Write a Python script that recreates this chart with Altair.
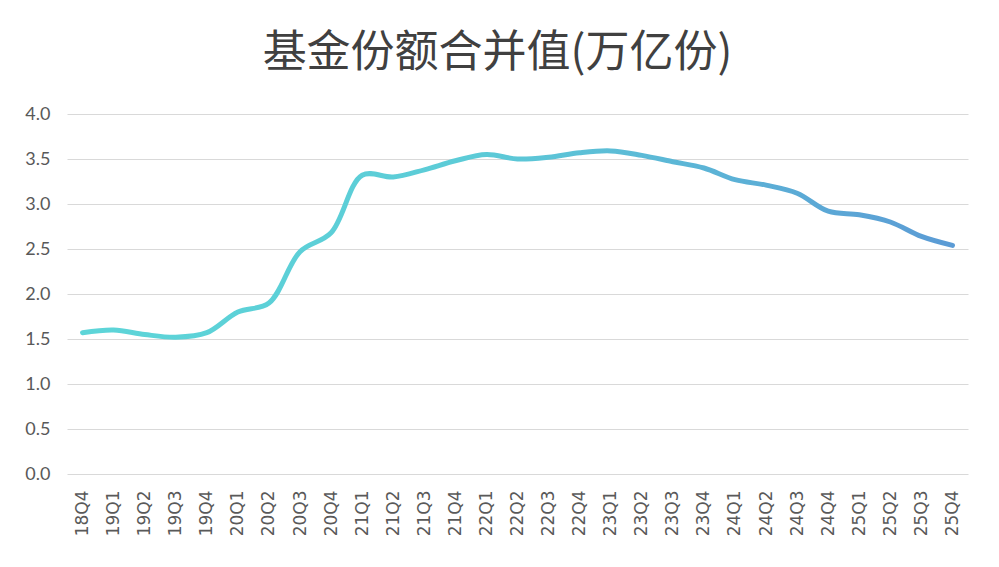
import altair as alt
import pandas as pd

quarters = ["18Q4", "19Q1", "19Q2", "19Q3", "19Q4",
            "20Q1", "20Q2", "20Q3", "20Q4",
            "21Q1", "21Q2", "21Q3", "21Q4",
            "22Q1", "22Q2", "22Q3", "22Q4",
            "23Q1", "23Q2", "23Q3", "23Q4",
            "24Q1", "24Q2", "24Q3", "24Q4",
            "25Q1", "25Q2", "25Q3", "25Q4"]
values = [1.57, 1.60, 1.55, 1.52, 1.57,
          1.80, 1.90, 2.47, 2.68,
          3.32, 3.30, 3.38, 3.48,
          3.55, 3.50, 3.52, 3.57,
          3.59, 3.54, 3.47, 3.40,
          3.27, 3.21, 3.12, 2.92,
          2.88, 2.80, 2.64, 2.54]

df = pd.DataFrame({"q": quarters, "v": values})

grad = alt.Gradient(
    gradient="linear",
    stops=[alt.GradientStop(color="#5dd5d8", offset=0),
           alt.GradientStop(color="#5ccbd7", offset=0.45),
           alt.GradientStop(color="#5b9bd5", offset=1)],
    x1=0, x2=1, y1=0, y2=0,
)

chart = alt.Chart(df).mark_line(
    stroke=grad, strokeWidth=5, strokeCap="round", interpolate="catmull-rom"
).encode(
    x=alt.X("q:N", sort=quarters, title=None,
            scale=alt.Scale(type="point", padding=0.5),
            axis=alt.Axis(labelAngle=270, labelFont="DejaVu Sans", labelFontSize=17,
                          labelColor="#595959", labelPadding=16, ticks=False,
                          domain=False, grid=False, labelOverlap=False)),
    y=alt.Y("v:Q", title=None,
            scale=alt.Scale(domain=[0, 4]),
            axis=alt.Axis(values=[0, 0.5, 1, 1.5, 2, 2.5, 3, 3.5, 4], format=".1f",
                          labelFont="Lato", labelFontSize=18, labelColor="#595959",
                          labelPadding=17, ticks=False, domain=False,
                          gridColor="#d9d9d9", gridWidth=1)),
).properties(
    width=901, height=360,
    autosize=alt.AutoSizeParams(type="none"),
    padding={"left": 59, "right": 23, "top": 106, "bottom": 85},
    title=alt.TitleParams("基金份额合并值(万亿份)", font="Noto Sans CJK SC",
                          fontSize=44, fontWeight="normal", color="#404040",
                          anchor="middle", offset=29, dx=-20),
).configure(
    background="white",
    view=alt.ViewConfig(stroke=None, strokeWidth=0),
)

chart.save("out.html", embed_options={"renderer": "svg", "actions": False})
